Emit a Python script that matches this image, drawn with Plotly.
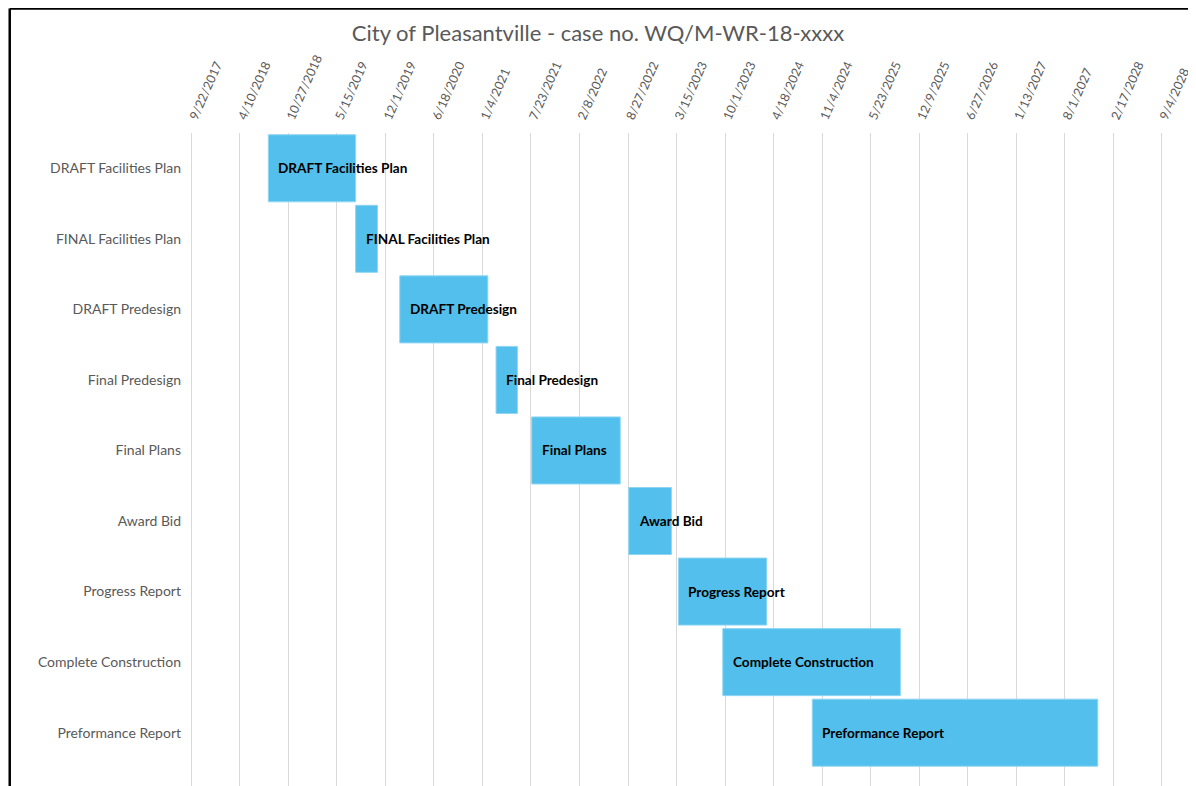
import datetime as dt
import plotly.graph_objects as go

tasks = ["DRAFT Facilities Plan", "FINAL Facilities Plan", "DRAFT Predesign",
         "Final Predesign", "Final Plans", "Award Bid", "Progress Report",
         "Complete Construction", "Preformance Report"]
start_dates = ["2018-08-05", "2019-07-31", "2020-01-29", "2021-03-01", "2021-07-26",
               "2022-08-30", "2023-03-23", "2023-09-22", "2024-09-25"]
duration_days = [360, 90, 363, 88, 365, 176, 364, 732, 1177]

axis_min = "2017-09-22"
axis_max = "2028-09-04"
tick_step_days = 200

DAY_MS = 86400000
PX_PER_DAY = 970.5 / 4000.0
PAD_DAYS = 6  # small padding so edge gridlines/ticks are kept by plotly
pad_px = PAD_DAYS * PX_PER_DAY

# the page adds an 8px body margin, so the figure is sized to fill the rest
W, H = 1188, 778
L, R, T, B = 183 - pad_px, 34.5 - pad_px, 125, 0
pw, ph = W - L - R, H - T - B

fig = go.Figure()
fig.add_trace(go.Bar(
    y=tasks,
    x=[d * DAY_MS for d in duration_days],
    base=start_dates,
    orientation="h",
    marker=dict(color="#52BFEC", line=dict(color="#8ED5F4", width=1)),
    hoverinfo="skip",
    showlegend=False,
))

for t, s in zip(tasks, start_dates):
    fig.add_annotation(x=s, y=t, text="<b>" + t + "</b>", showarrow=False,
                       xanchor="left", yanchor="middle", xshift=8, yshift=0,
                       font=dict(family="Lato", size=13.6, color="#000000"))

# outer chart frame (partially cropped)
fx = (1.2 - L) / pw
fy = 1 + (T - 0.6) / ph
fig.add_shape(type="line", xref="paper", yref="paper", x0=fx, x1=(W + 5 - L) / pw,
              y0=fy, y1=fy, line=dict(color="#000000", width=2.5))
fig.add_shape(type="line", xref="paper", yref="paper", x0=fx, x1=fx,
              y0=fy, y1=-0.05, line=dict(color="#000000", width=2.5))

rmin = (dt.date.fromisoformat(axis_min) - dt.timedelta(days=PAD_DAYS)).isoformat()
rmax = (dt.date.fromisoformat(axis_max) + dt.timedelta(days=PAD_DAYS)).isoformat()

fig.update_layout(
    width=W, height=H,
    margin=dict(l=L, r=R, t=T, b=B, pad=0),
    paper_bgcolor="white", plot_bgcolor="white",
    bargap=0.05,
    title=dict(text="City of Pleasantville - case no. WQ/M-WR-18-xxxx",
               x=590 / W, xanchor="center", y=1 - 25 / H, yanchor="middle",
               font=dict(family="Lato", size=22, color="#595959")),
    xaxis=dict(type="date", side="top", range=[rmin, rmax],
               tick0=axis_min, dtick=tick_step_days * DAY_MS,
               tickformat="%-m/%-d/%Y", tickangle=-66,
               ticklabeloverflow="allow",
               showgrid=True, gridcolor="#D9D9D9", gridwidth=1,
               zeroline=False, showline=False, ticks="",
               ticklabelstandoff=5,
               tickfont=dict(family="Lato", size=12.5, color="#595959")),
    yaxis=dict(type="category", categoryorder="array", categoryarray=tasks,
               range=[8.756, -0.5], showgrid=False, zeroline=False,
               showline=False, ticks="", ticklabelstandoff=8,
               tickfont=dict(family="Lato", size=14, color="#595959")),
)

fig.write_html("out.html")
